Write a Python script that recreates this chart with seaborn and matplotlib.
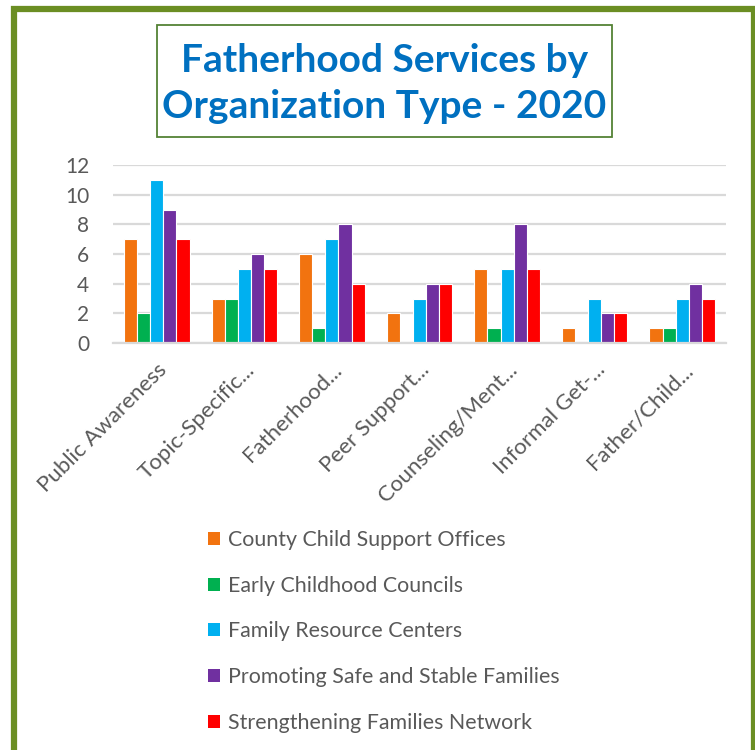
import numpy as np
import pandas as pd
import seaborn as sns
import matplotlib
matplotlib.use("Agg")
import matplotlib.pyplot as plt
from matplotlib.patches import Rectangle, Patch

# Service categories (x axis) and organization types (bar series)
categories = [
    "Public Awareness",
    "Topic-Specific...",
    "Fatherhood...",
    "Peer Support...",
    "Counseling/Ment...",
    "Informal Get-...",
    "Father/Child...",
]
organizations = [
    "County Child Support Offices",
    "Early Childhood Councils",
    "Family Resource Centers",
    "Promoting Safe and Stable Families",
    "Strengthening Families Network",
]
county_child_support = [7, 3, 6, 2, 5, 1, 1]
early_childhood = [2, 3, 1, 0, 1, 0, 1]
family_resource = [11, 5, 7, 3, 5, 3, 3]
safe_stable = [9, 6, 8, 4, 8, 2, 4]
strengthening = [7, 5, 4, 4, 5, 2, 3]
y_ticks = [0, 2, 4, 6, 8, 10, 12]

colors = ["#F2730F", "#00B050", "#00B0F0", "#7030A0", "#FF0000"]

series = [county_child_support, early_childhood, family_resource, safe_stable, strengthening]
df = pd.DataFrame(
    [(cat, org, val)
     for org, vals in zip(organizations, series)
     for cat, val in zip(categories, vals)],
    columns=["Service", "Organization", "Count"],
)

sns.set_theme(style="white")
plt.rcParams["font.family"] = ["Lato", "DejaVu Sans"]

text_gray = "#595959"
grid_gray = "#D9D9D9"
frame_green = "#6B8E23"

fig = plt.figure(figsize=(7.55, 7.5), dpi=100)
fig.patch.set_facecolor("white")

ax = fig.add_axes([113 / 755, 1 - 343 / 750, (726 - 113) / 755, (343 - 165) / 750])
sns.barplot(
    data=df, x="Service", y="Count", hue="Organization",
    hue_order=organizations, order=categories,
    palette=colors, width=0.75, saturation=1,
    edgecolor="white", linewidth=0.8, legend=False, ax=ax,
)

ax.set_ylim(0, 12)
ax.set_yticks(y_ticks)
ax.set_xlim(-0.5, len(categories) - 0.5)
ax.yaxis.grid(True, color=grid_gray, linewidth=1.6)
ax.set_axisbelow(True)
for side in ["top", "right", "left"]:
    ax.spines[side].set_visible(False)
ax.spines["bottom"].set_color(grid_gray)
ax.spines["bottom"].set_linewidth(1.6)
ax.set_xlabel("")
ax.set_ylabel("")
ax.tick_params(axis="both", length=0)
ax.tick_params(axis="y", labelsize=15, labelcolor=text_gray, pad=17)
ax.tick_params(axis="x", labelsize=16, labelcolor=text_gray, pad=12)
for lbl in ax.get_xticklabels():
    lbl.set_rotation(45)
    lbl.set_ha("right")
    lbl.set_rotation_mode("anchor")
for lbl in ax.get_yticklabels():
    lbl.set_ha("right")

# Legend below the chart
handles = [Patch(facecolor=c, edgecolor="none") for c in colors]
fig.legend(
    handles, organizations, loc="upper left",
    bbox_to_anchor=(208 / 755, 1 - 530 / 750),
    frameon=False, fontsize=15.4, labelcolor=text_gray,
    handlelength=0.56, handleheight=0.56, handletextpad=0.37,
    labelspacing=1.2, borderpad=0, borderaxespad=0,
)

# Title with its boxed frame
fig.add_artist(Rectangle((157 / 755, 1 - 137 / 750), (612 - 157) / 755, (137 - 25) / 750,
                         transform=fig.transFigure, fill=False,
                         edgecolor="#548235", linewidth=1.3))
fig.text(384.5 / 755, 1 - 60 / 750, "Fatherhood Services by", ha="center", va="center",
         fontsize=28, fontweight="bold", color="#0070C0")
fig.text(384.5 / 755, 1 - 107 / 750, "Organization Type - 2020", ha="center", va="center",
         fontsize=28, fontweight="bold", color="#0070C0")

# Outer green frame
fig.add_artist(Rectangle((14 / 755, -0.05), (754 - 14) / 755, 1.05 - 9 / 750,
                         transform=fig.transFigure, fill=False,
                         edgecolor=frame_green, linewidth=4.5))

fig.savefig("out.png", dpi=100, facecolor="white")
